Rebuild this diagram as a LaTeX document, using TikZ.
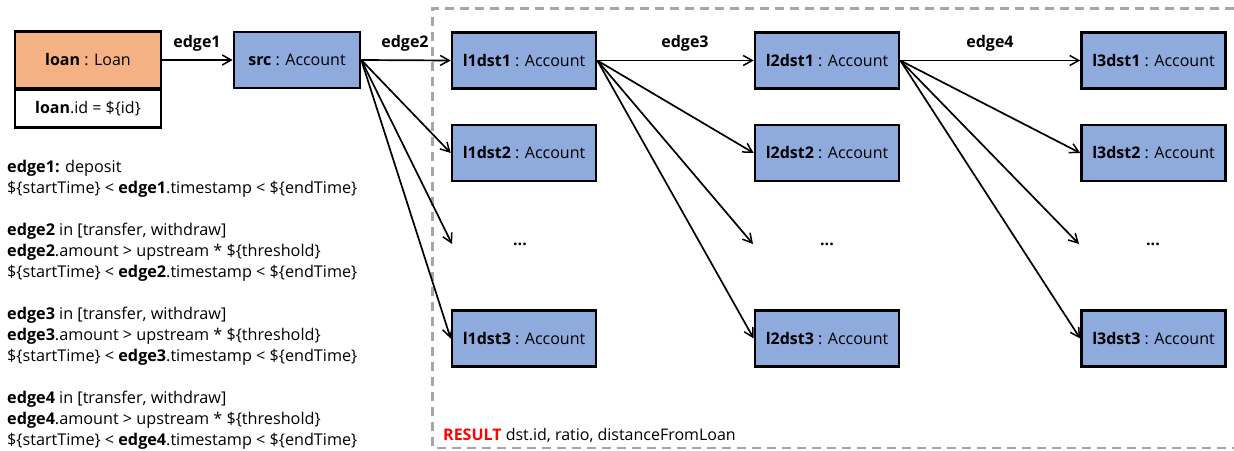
\documentclass[tikz,border=0pt]{standalone}
\usepackage{fontspec}
\setmainfont{Open Sans}
\usetikzlibrary{arrows.meta}
\definecolor{acctblue}{HTML}{8FAADC}
\definecolor{loanorange}{HTML}{F4B183}
\definecolor{dashgray}{HTML}{A6A6A6}
\definecolor{resred}{HTML}{FF0000}
\tikzset{
  acct/.style={draw=black, line width=2.6pt, fill=acctblue, minimum width=144pt, minimum height=56pt, inner sep=0pt, font=\fontsize{16}{18}\selectfont},
  loanhead/.style={draw=black, line width=2.6pt, fill=loanorange, minimum width=146pt, minimum height=57pt, inner sep=0pt, font=\fontsize{16}{18}\selectfont},
  loanattr/.style={draw=black, line width=2.6pt, fill=white, minimum width=146pt, minimum height=38pt, inner sep=0pt, font=\fontsize{16}{18}\selectfont},
  flow/.style={line width=1.7pt, -{Straight Barb[length=9pt,width=10pt,line width=1.5pt]}},
  elabel/.style={font=\bfseries\fontsize{16}{18}\selectfont, inner sep=0pt},
  dotsnode/.style={font=\bfseries\fontsize{16}{18}\selectfont, inner sep=0pt},
  cond/.style={align=left, anchor=north west, inner sep=0pt, font=\fontsize{16.2}{21}\selectfont},
  resultbox/.style={draw=dashgray, line width=2.6pt, dash pattern=on 9pt off 6pt}
}
\begin{document}
\begin{tikzpicture}[x=1pt,y=-1pt]
\useasboundingbox (0,0) rectangle (1234,450);
% dashed result region
\draw[resultbox] (1234,8.5) -- (432.5,8.5) -- (432.5,448) -- (1234,448);
% loan
\node[loanhead] (loan) at (88,60) {\textbf{loan} : Loan};
\node[loanattr] (loanid) at (88,108.5) {\textbf{loan}.id = \$\{id\}};
% src
\node[acct, minimum width=126pt] (src) at (297,60) {\textbf{src} : Account};
% level 1
\node[acct] (l1a) at (524,60.5) {\textbf{l1dst1} : Account};
\node[acct] (l1b) at (524,153) {\textbf{l1dst2} : Account};
\node[dotsnode] (l1d) at (520,244) {...};
\node[acct] (l1c) at (524,338.5) {\textbf{l1dst3} : Account};
% level 2
\node[acct] (l2a) at (827,60.5) {\textbf{l2dst1} : Account};
\node[acct] (l2b) at (827,153) {\textbf{l2dst2} : Account};
\node[dotsnode] (l2d) at (827,244) {...};
\node[acct] (l2c) at (827,338.5) {\textbf{l2dst3} : Account};
% level 3
\node[acct] (l3a) at (1153.5,60.5) {\textbf{l3dst1} : Account};
\node[acct] (l3b) at (1153.5,153) {\textbf{l3dst2} : Account};
\node[dotsnode] (l3d) at (1153,244) {...};
\node[acct] (l3c) at (1153.5,338.5) {\textbf{l3dst3} : Account};
% dots arrow targets
\coordinate (t1) at (452,244);
\coordinate (t2) at (753,244);
\coordinate (t3) at (1079,244);
% edges
\draw[flow] (loan.east) -- (src.west);
\draw[flow] (src.east) -- (l1a.west);
\draw[flow] (src.east) -- (l1b.west);
\draw[flow] (src.east) -- (t1);
\draw[flow] (src.east) -- (l1c.west);
\draw[flow] (l1a.east) -- (l2a.west);
\draw[flow] (l1a.east) -- (l2b.west);
\draw[flow] (l1a.east) -- (t2);
\draw[flow] (l1a.east) -- (l2c.west);
\draw[flow] (l2a.east) -- (l3a.west);
\draw[flow] (l2a.east) -- (l3b.west);
\draw[flow] (l2a.east) -- (t3);
\draw[flow] (l2a.east) -- (l3c.west);
% edge labels
\node[elabel] (e1) at (197,43) {edge1};
\node[elabel] (e2) at (405,43) {edge2};
\node[elabel] (e3) at (685,43) {edge3};
\node[elabel] (e4) at (990,43) {edge4};
% conditions
\node[cond] (conds) at (7,160) {%
\textbf{edge1:} deposit\\
\$\{startTime\} < \textbf{edge1}.timestamp < \$\{endTime\}\\[21pt]
\textbf{edge2} in [transfer, withdraw]\\
\textbf{edge2}.amount > upstream * \$\{threshold\}\\
\$\{startTime\} < \textbf{edge2}.timestamp < \$\{endTime\}\\[21pt]
\textbf{edge3} in [transfer, withdraw]\\
\textbf{edge3}.amount > upstream * \$\{threshold\}\\
\$\{startTime\} < \textbf{edge3}.timestamp < \$\{endTime\}\\[21pt]
\textbf{edge4} in [transfer, withdraw]\\
\textbf{edge4}.amount > upstream * \$\{threshold\}\\
\$\{startTime\} < \textbf{edge4}.timestamp < \$\{endTime\}};
% result
\node[anchor=west, inner sep=0pt, font=\fontsize{16}{18}\selectfont] (res) at (443,435) {\textcolor{resred}{\textbf{RESULT}} dst.id, ratio, distanceFromLoan};
\end{tikzpicture}
\end{document}
